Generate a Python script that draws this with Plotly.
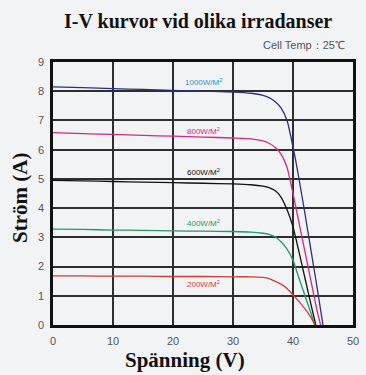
import plotly.graph_objects as go

# Data
v1000 = [0, 5, 10, 15, 20, 25, 30, 33, 35, 36, 37, 38, 39, 40, 41, 42, 43, 44, 45]
i1000 = [8.15, 8.12, 8.09, 8.06, 8.03, 8.0, 7.97, 7.93, 7.86, 7.78, 7.65, 7.43, 7.0, 6.1, 5.0, 3.8, 2.55, 1.3, 0]
v800 = [0, 5, 10, 15, 20, 25, 30, 33, 35, 36, 37, 38, 39, 40, 41, 42, 43, 44, 44.6]
i800 = [6.58, 6.55, 6.52, 6.49, 6.46, 6.43, 6.40, 6.37, 6.3, 6.22, 6.08, 5.85, 5.4, 4.5, 3.5, 2.5, 1.5, 0.5, 0]
v600 = [0, 5, 10, 15, 20, 25, 30, 33, 35, 36, 37, 38, 39, 40, 41, 42, 43, 43.8]
i600 = [4.95, 4.93, 4.91, 4.89, 4.87, 4.85, 4.83, 4.8, 4.75, 4.7, 4.6, 4.38, 3.95, 3.36, 2.5, 1.6, 0.7, 0]
v400 = [0, 5, 10, 15, 20, 25, 30, 33, 35, 36, 37, 38, 39, 40, 41, 42, 43, 43.6]
i400 = [3.28, 3.27, 3.25, 3.24, 3.22, 3.21, 3.2, 3.18, 3.14, 3.1, 3.02, 2.85, 2.6, 2.22, 1.6, 1.0, 0.4, 0]
v200 = [0, 5, 10, 15, 20, 25, 30, 33, 35, 36, 37, 38, 39, 40, 41, 42, 43, 43.7]
i200 = [1.68, 1.68, 1.67, 1.67, 1.66, 1.66, 1.65, 1.65, 1.63, 1.59, 1.5, 1.4, 1.25, 1.03, 0.8, 0.55, 0.25, 0]

labels = ["1000W/M<sup>2</sup>", "800W/M<sup>2</sup>", "600W/M<sup>2</sup>", "400W/M<sup>2</sup>", "200W/M<sup>2</sup>"]
label_v = [25, 25, 25, 25, 25]
label_i = [8.32, 6.65, 5.25, 3.5, 1.42]

title_text = "I-V kurvor vid olika irradanser"
temp_text = "Cell Temp：25℃"
x_title = "Spänning (V)"
y_title = "Ström (A)"

series = [
    (v1000, i1000, "#2d2f7c", "#3a8cc2"),
    (v800, i800, "#d42a80", "#d42a80"),
    (v600, i600, "#111111", "#111111"),
    (v400, i400, "#1f9a6a", "#1f9a6a"),
    (v200, i200, "#d53a3a", "#d53a3a"),
]

W, H = 366, 375
L, R, T, B = 53, 13, 62, 50
pw, ph = W - L - R, H - T - B

def px_x(p):  # paper coordinate from pixel x
    return (p - L) / pw

def px_y(p):  # paper coordinate from pixel y (top-down)
    return (H - B - p) / ph

fig = go.Figure()
for (v, i, c, _lc) in series:
    fig.add_trace(go.Scatter(x=v, y=i, mode="lines", line=dict(color=c, width=1.3, shape="spline", smoothing=0.6),
                             hoverinfo="skip", showlegend=False))

for lab, lv, li, s in zip(labels, label_v, label_i, series):
    fig.add_annotation(x=lv, y=li, text=lab, showarrow=False, xref="x", yref="y",
                       font=dict(family="Liberation Sans, Arial", size=8, color=s[3]))

serif = "Liberation Serif, Times New Roman"
fig.add_annotation(x=px_x(198), y=px_y(21), xref="paper", yref="paper", text="<b>" + title_text + "</b>",
                   showarrow=False, xanchor="center", yanchor="middle",
                   font=dict(family=serif, size=20, color="#111"))
fig.add_annotation(x=px_x(347), y=px_y(45), xref="paper", yref="paper", text=temp_text, showarrow=False,
                   xanchor="right", yanchor="middle",
                   font=dict(family="Liberation Sans, Arial", size=11, color="#555"))
fig.add_annotation(x=px_x(185), y=px_y(360), xref="paper", yref="paper", text="<b>" + x_title + "</b>",
                   showarrow=False, xanchor="center", yanchor="middle",
                   font=dict(family=serif, size=21, color="#111"))
fig.add_annotation(x=px_x(20), y=px_y(198), xref="paper", yref="paper", text="<b>" + y_title + "</b>",
                   showarrow=False, xanchor="center", yanchor="middle", textangle=-90,
                   font=dict(family=serif, size=21, color="#111"))

bg = "#f2f3f5"
fig.update_layout(
    width=W, height=H,
    margin=dict(l=L, r=R, t=T, b=B),
    paper_bgcolor=bg, plot_bgcolor=bg,
    showlegend=False,
)

axis_common = dict(showgrid=True, gridcolor="#2e2e2e", gridwidth=1.5,
                   showline=True, linecolor="#111", linewidth=2.5, mirror=True, zeroline=False, automargin=False,
                   ticks="", ticklabelstandoff=4, tickfont=dict(family="Liberation Sans, Arial", size=11, color="#555"))
fig.update_xaxes(range=[0, 50], dtick=10, **axis_common)
fig.update_yaxes(range=[0, 9], dtick=1, **axis_common)

fig.write_html("out.html", config={"displayModeBar": False},
               post_script="document.body.style.margin='0';document.body.style.background='#f2f3f5';")
